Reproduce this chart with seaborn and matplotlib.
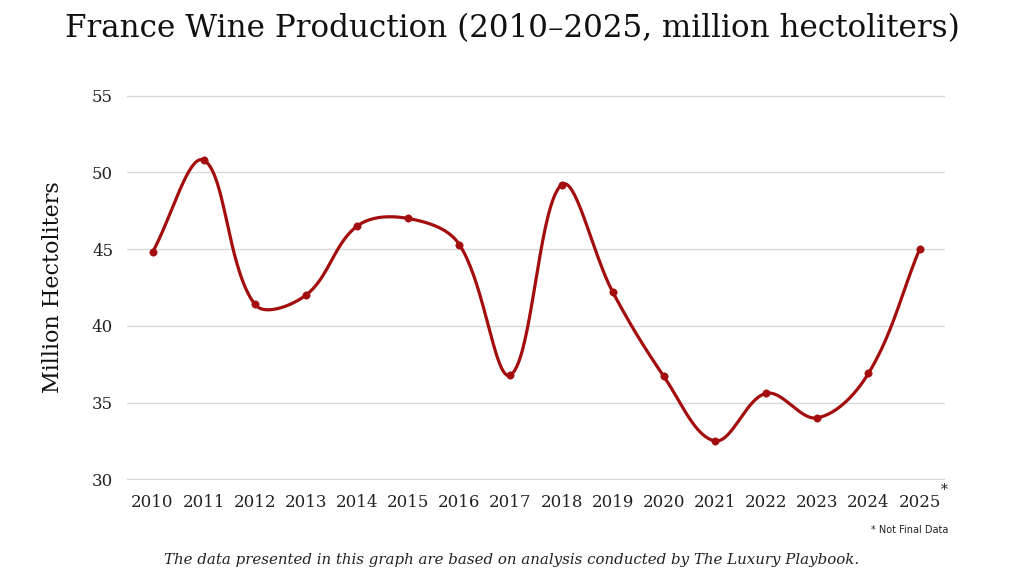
import numpy as np
import pandas as pd
import matplotlib
matplotlib.use("Agg")
import matplotlib.pyplot as plt
import seaborn as sns

years = ["2010", "2011", "2012", "2013", "2014", "2015", "2016", "2017",
         "2018", "2019", "2020", "2021", "2022", "2023", "2024", "2025"]
production = [44.8, 50.8, 41.4, 42.0, 46.5, 47.0, 45.3, 36.8,
              49.2, 42.2, 36.7, 32.5, 35.6, 34.0, 36.9, 45.0]
y_ticks = [30, 35, 40, 45, 50, 55]

LINE = "#A30D0D"

sns.set_theme(style="white")
plt.rcParams['font.family'] = ['DejaVu Serif']

fig = plt.figure(figsize=(10.24, 5.76), dpi=100)
ax = fig.add_axes([0.124, 0.1667, 0.799, 0.6684])

# Chart.js-like bezier smoothing, computed in screen-like units
x = np.arange(len(production), dtype=float)
y = np.array(production, dtype=float)
sx, sy = 51.1, 15.4
P = np.column_stack([x * sx, y * sy])
t = 0.36
n = len(P)
cp_prev = P.copy()
cp_next = P.copy()
for i in range(n):
    p0 = P[max(i - 1, 0)]
    p1 = P[i]
    p2 = P[min(i + 1, n - 1)]
    d01 = np.hypot(*(p1 - p0))
    d12 = np.hypot(*(p2 - p1))
    tot = d01 + d12
    s01 = d01 / tot if tot else 0
    s12 = d12 / tot if tot else 0
    fa, fb = t * s01, t * s12
    cp_prev[i] = p1 - fa * (p2 - p0)
    cp_next[i] = p1 + fb * (p2 - p0)
xs, ys = [], []
u = np.linspace(0, 1, 40)
for i in range(n - 1):
    a, b, c, d = P[i], cp_next[i], cp_prev[i + 1], P[i + 1]
    seg = ((1 - u) ** 3)[:, None] * a + (3 * (1 - u) ** 2 * u)[:, None] * b \
        + (3 * (1 - u) * u ** 2)[:, None] * c + (u ** 3)[:, None] * d
    xs.extend(seg[:, 0] / sx)
    ys.extend(seg[:, 1] / sy)
smooth = pd.DataFrame({"x": xs, "y": ys})
pts = pd.DataFrame({"x": x, "y": y})

sns.lineplot(data=smooth, x="x", y="y", ax=ax, color=LINE, linewidth=2.3,
             sort=False, estimator=None)
sns.scatterplot(data=pts, x="x", y="y", ax=ax, color=LINE, s=28,
                edgecolor=LINE, zorder=3)

ax.set_xlim(-0.5, 15.5)
ax.set_ylim(29.95, 55.05)
ax.set_yticks(y_ticks)
ax.set_yticklabels([str(v) for v in y_ticks], fontsize=12, color="#222222")
ax.set_xticks(x)
ax.set_xticklabels(years, fontsize=12, color="#222222")
ax.tick_params(axis='both', length=0, pad=10)
ax.grid(axis='y', color="#d9d9d9", linewidth=1)
ax.grid(axis='x', visible=False)
for s in ax.spines.values():
    s.set_visible(False)
ax.set_xlabel("")
ax.set_ylabel("Million Hectoliters", fontsize=16, labelpad=20, color="#111111")

ax.annotate("*", xy=(15, 30), xycoords="data", xytext=(17.5, -8),
            textcoords="offset points", fontsize=10, ha="center", va="center",
            color="#222222")

fig.text(0.5, 0.951, "France Wine Production (2010\u20132025, million hectoliters)",
         ha="center", va="center", fontsize=22.3, color="#111111")
fig.text(0.926, 0.080, "* Not Final Data", ha="right", va="center", fontsize=7,
         family=["DejaVu Sans"], color="#222222")
fig.text(0.5, 0.027,
         "The data presented in this graph are based on analysis conducted by The Luxury Playbook.",
         ha="center", va="center", fontsize=10.8, style="italic", color="#222222")

fig.savefig("out.png", dpi=100, facecolor="white")
